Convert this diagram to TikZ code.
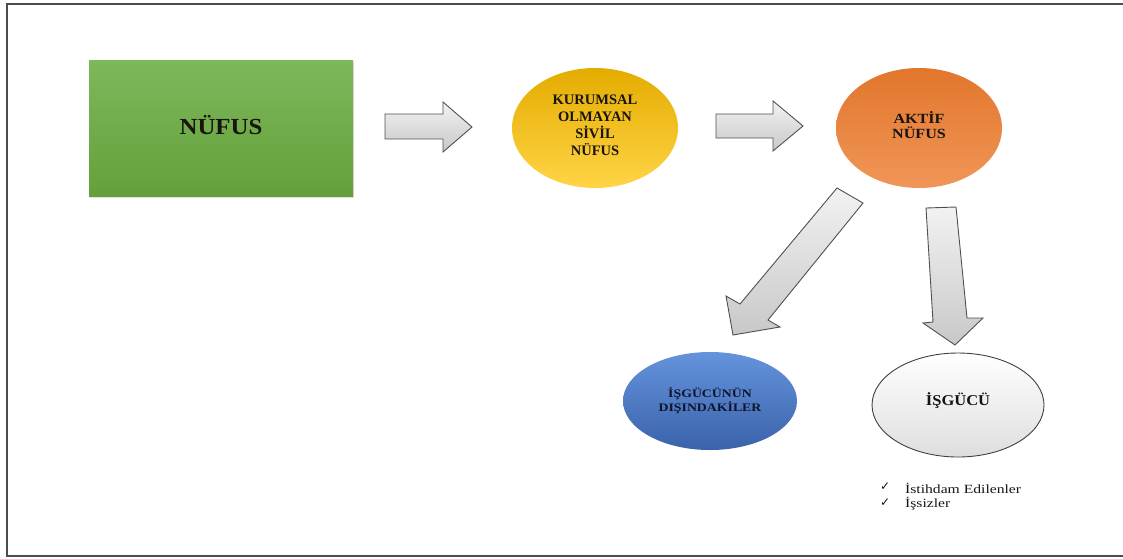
\documentclass[tikz,border=0pt]{standalone}
\usepackage{fontspec}
\setmainfont{Liberation Serif}
\newfontfamily\symfont{DejaVu Sans}
\usetikzlibrary{shapes.geometric,shadows}
\definecolor{grtop}{RGB}{126,184,92}
\definecolor{grbot}{RGB}{100,160,58}
\definecolor{yetop}{RGB}{228,172,0}
\definecolor{yebot}{RGB}{255,212,70}
\definecolor{ortop}{RGB}{226,118,44}
\definecolor{orbot}{RGB}{240,150,88}
\definecolor{bltop}{RGB}{100,148,220}
\definecolor{blbot}{RGB}{58,98,170}
\definecolor{artop}{RGB}{242,242,242}
\definecolor{arbot}{RGB}{200,200,200}
\definecolor{arline}{RGB}{80,80,80}
\definecolor{txt}{RGB}{25,20,15}
\tikzset{
  blob/.style={ellipse, inner sep=0pt},
  lbl/.style={inner sep=0pt, align=center, text=txt},
  blockarrow/.style={draw=arline, line width=0.9pt, top color=artop, bottom color=arbot, line join=miter},
}
\begin{document}
\begin{tikzpicture}[x=1pt,y=-1pt]
\useasboundingbox (0,0) rectangle (1123,558);
\clip (0,0) rectangle (1123,558);
% frame
\draw[line width=2.2pt, draw=black!70] (7,4) rectangle (1135,556);
% green box
\node[draw=none, top color=grtop, bottom color=grbot, minimum width=264pt, minimum height=136pt,
      inner sep=0pt, drop shadow={opacity=0.25, shadow xshift=1pt, shadow yshift=-2pt}] (nufus) at (221,128) {};
\node[lbl, font=\bfseries\fontsize{23}{26}\selectfont] (nufustxt) at (nufus.center) [yshift=3pt] {\scalebox{1.08}[1]{NÜFUS}};
% yellow ellipse
\node[blob, top color=yetop, bottom color=yebot, minimum width=166pt, minimum height=120pt] (kurum) at (595,128) {};
\node[lbl, font=\bfseries\fontsize{14.5}{17}\selectfont] (kurumtxt) at (kurum.center) [yshift=3pt]
      {KURUMSAL\\OLMAYAN\\SİVİL\\NÜFUS};
% orange ellipse
\node[blob, top color=ortop, bottom color=orbot, minimum width=166pt, minimum height=120pt] (aktif) at (919,128) {};
\node[lbl, font=\bfseries\fontsize{14}{15}\selectfont] (aktiftxt) at (aktif.center) [yshift=3pt]
      {\scalebox{1.15}[1]{AKTİF}\\\scalebox{1.15}[1]{NÜFUS}};
% blue ellipse
\node[blob, top color=bltop, bottom color=blbot, minimum width=174pt, minimum height=98pt] (disin) at (710,401) {};
\node[lbl, font=\bfseries\fontsize{11.5}{14}\selectfont, text={rgb,255:red,15;green,20;blue,45}] (disintxt) at (disin.center)
      {\scalebox{1.2}[1]{İŞGÜCÜNÜN}\\\scalebox{1.2}[1]{DIŞINDAKİLER}};
% white ellipse
\node[blob, draw=black!75, line width=0.9pt, top color=white, bottom color=black!13, minimum width=172pt, minimum height=104pt] (isgucu) at (958,405) {};
\node[lbl, font=\bfseries\fontsize{15}{17}\selectfont] (isgucutxt) at (isgucu.center) [yshift=4pt] {\scalebox{1.1}[1]{İŞGÜCÜ}};
% block arrows
\draw[blockarrow] (385,114) -- (443,114) -- (443,102) -- (472,127) -- (443,152) -- (443,139) -- (385,139) -- cycle;
\draw[blockarrow] (716,114) -- (773,114) -- (773,101) -- (803,126) -- (773,151) -- (773,138) -- (716,138) -- cycle;
\draw[blockarrow] (837,188) -- (863,203) -- (768,320) -- (780,327) -- (733,335) -- (726,296) -- (740,304) -- cycle;
\draw[blockarrow] (926,208) -- (956,207) -- (967,318) -- (983,318) -- (955,345) -- (923,323) -- (933,322) -- cycle;
% checklist
\node[anchor=west, inner sep=0pt, font=\symfont\fontsize{12}{12}\selectfont, text=txt] (c1) at (880,487) {✓};
\node[anchor=west, inner sep=0pt, font=\symfont\fontsize{12}{12}\selectfont, text=txt] (c2) at (880,503) {✓};
\node[anchor=west, inner sep=0pt, font=\fontsize{12.5}{14}\selectfont, text=txt] (l1) at (905,488) {\scalebox{1.25}[1]{İstihdam Edilenler}};
\node[anchor=west, inner sep=0pt, font=\fontsize{12.5}{14}\selectfont, text=txt] (l2) at (905,504) {\scalebox{1.25}[1]{İşsizler}};
\end{tikzpicture}
\end{document}
